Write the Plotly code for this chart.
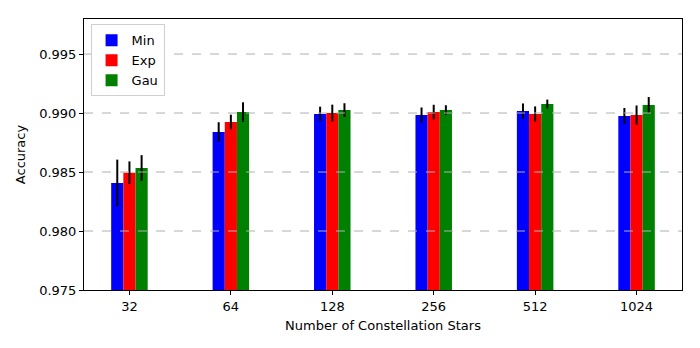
import plotly.graph_objects as go

stars = ['32', '64', '128', '256', '512', '1024']
min_acc = [0.98407, 0.98839, 0.98992, 0.98983, 0.99017, 0.98975]
min_err = [0.00198, 0.00083, 0.00062, 0.00064, 0.00064, 0.00068]
exp_acc = [0.98494, 0.98924, 0.99000, 0.99008, 0.98992, 0.98983]
exp_err = [0.00096, 0.00062, 0.00071, 0.00062, 0.00064, 0.00081]
gau_acc = [0.98534, 0.99008, 0.99025, 0.99025, 0.99076, 0.99068]
gau_err = [0.00109, 0.00083, 0.00058, 0.00041, 0.00038, 0.00068]

yticks = [0.975, 0.980, 0.985, 0.990, 0.995]
pos = list(range(len(stars)))

fig = go.Figure()
for name, vals, errs, col in [('Min', min_acc, min_err, 'blue'),
                              ('Exp', exp_acc, exp_err, 'red'),
                              ('Gau', gau_acc, gau_err, 'green')]:
    fig.add_trace(go.Bar(
        x=pos, y=vals, name=name, marker=dict(color=col, line=dict(width=0)),
        error_y=dict(type='data', array=errs, color='black', thickness=2, width=0),
    ))

# dashed grid drawn on top of the bars, like the original
for yv in yticks[1:]:
    fig.add_shape(type='line', xref='paper', yref='y', x0=0, x1=1, y0=yv, y1=yv,
                  line=dict(color='#b0b0b0', width=1, dash='dash'), layer='above')

fnt = dict(family='DejaVu Sans', size=13, color='black')
# the page adds an 8px body margin, so margins are shifted to compensate
fig.update_layout(
    width=700, height=348,
    margin=dict(l=76, r=26, t=11, b=66),
    paper_bgcolor='white', plot_bgcolor='white',
    font=fnt,
    barmode='group', bargap=0.64, bargroupgap=0,
    legend=dict(x=0.011, y=0.98, xanchor='left', yanchor='top',
                bgcolor='white', bordercolor='#d0d0d0', borderwidth=1,
                font=fnt, tracegroupgap=0, itemwidth=30),
    xaxis=dict(range=[-0.448, 5.448], tickmode='array', tickvals=pos, ticktext=stars,
               showline=True, linecolor='black', linewidth=1, mirror=True,
               ticks='outside', ticklen=4, tickcolor='black', showgrid=False,
               tickfont=fnt, automargin=False,
               title=dict(text='Number of Constellation Stars', standoff=8, font=fnt)),
    yaxis=dict(range=[0.975, 0.99797], tickmode='array', tickvals=yticks,
               tickformat='.3f', showline=True, linecolor='black', linewidth=1,
               mirror=True, ticks='outside', ticklen=4, tickcolor='black',
               showgrid=False, zeroline=False, tickfont=fnt, automargin=False,
               title=dict(text='Accuracy', standoff=10, font=fnt)),
)

fig.write_html('out.html')
